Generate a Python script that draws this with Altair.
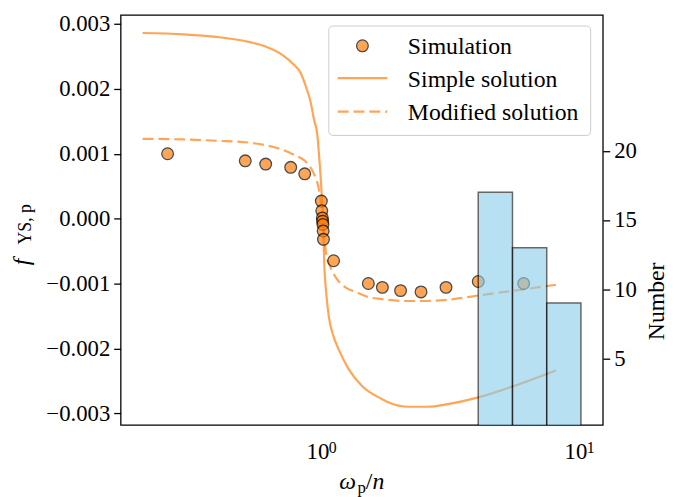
import altair as alt
import pandas as pd

# ---------------- data ----------------
sim_x = [0.25, 0.5, 0.6, 0.75, 0.85, 0.986, 0.99, 0.995, 0.997, 1.0, 1.002, 1.005,
         1.1, 1.5, 1.7, 2.0, 2.4, 3.0, 4.0, 6.0]
sim_y = [0.00100, 0.00089, 0.00084, 0.00079, 0.00069, 0.00027, 0.00012, 0.00001,
         -0.00004, -0.00009, -0.00019, -0.00032, -0.00065, -0.00100, -0.00106,
         -0.00111, -0.00113, -0.00106, -0.00097, -0.00100]

simple_x = [0.2, 0.288, 0.387, 0.52, 0.602, 0.698, 0.763, 0.821, 0.858, 0.897, 0.923,
            0.952, 0.965, 0.986, 1.0, 1.012, 1.03, 1.054, 1.1, 1.152, 1.258, 1.417,
            1.69, 1.79, 2.14, 2.55, 3.05, 3.97, 5.5, 8.0]
simple_y = [0.00286, 0.00284, 0.00280, 0.00272, 0.00265, 0.00252, 0.00239, 0.00224,
            0.00204, 0.00179, 0.00153, 0.00128, 0.00100, 0.00047, 0.0, -0.00070,
            -0.00115, -0.00151, -0.00182, -0.00202, -0.00232, -0.00258, -0.00278,
            -0.00283, -0.00290, -0.00290, -0.00286, -0.00276, -0.00258, -0.00234]

mod_x = [0.2, 0.288, 0.387, 0.52, 0.602, 0.698, 0.785, 0.845, 0.884, 0.915, 0.937,
         0.96, 0.98, 0.995, 1.009, 1.03, 1.07, 1.119, 1.222, 1.335, 1.5, 1.69, 2.08,
         2.48, 3.05, 4.09, 6.0, 8.0]
mod_y = [0.00123, 0.00122, 0.00120, 0.00117, 0.00113, 0.00106, 0.00097, 0.00090,
         0.00082, 0.00072, 0.00062, 0.00049, 0.00026, 0.00002, -0.00024, -0.00055,
         -0.00075, -0.00090, -0.00106, -0.00113, -0.00121, -0.00124, -0.00127,
         -0.00127, -0.00125, -0.00118, -0.00109, -0.00102]

bin_left = [4.0, 5.43, 7.37]
bin_right = [5.43, 7.37, 10.0]
bin_count = [17, 13, 9]

y_ticks = [-0.003, -0.002, -0.001, 0.0, 0.001, 0.002, 0.003]
right_ticks = [5, 10, 15, 20]
x_major = [1, 10]
x_minor = [0.2, 0.3, 0.4, 0.5, 0.6, 0.7, 0.8, 0.9, 2, 3, 4, 5, 6, 7, 8, 9]
xt_base = ["10", "10"]
xt_exp = ["0", "1"]

legend_labels = ["Simulation", "Simple solution", "Modified solution"]

# ---------------- styling ----------------
FONT = "Liberation Serif"
ORANGE = "#ff7f0e"
W, H = 488, 415

xscale = alt.Scale(type="log", domain=[0.1644, 12.16])
yscale = alt.Scale(domain=[-0.00318, 0.00314])
rscale = alt.Scale(domain=[0.19, 29.83])

df_sim = pd.DataFrame({"x": sim_x, "y": sim_y})
df_simple = pd.DataFrame({"x": simple_x, "y": simple_y})
df_mod = pd.DataFrame({"x": mod_x, "y": mod_y})
df_hist = pd.DataFrame({"left": bin_left, "right": bin_right, "count": bin_count})
df_xt = pd.DataFrame({"v": x_major, "base": xt_base, "exp": xt_exp})
one = pd.DataFrame({"a": [0]})

x_axis = alt.Axis(
    values=x_major + x_minor, labels=False, title=None, domain=False, grid=False,
    tickColor="black", tickWidth=1.3,
    tickSize={"condition": {"test": "datum.value == 1 || datum.value == 10", "value": 7},
              "value": 4},
)
y_axis = alt.Axis(
    orient="left", values=y_ticks, title=None, domain=False, grid=False,
    tickColor="black", tickWidth=1.3, tickSize=7, labelPadding=4,
    labelFont=FONT, labelFontSize=23, labelColor="black",
    labelExpr="replace(format(datum.value, '.3f'), '-', '\u2212')",
)
r_axis = alt.Axis(
    orient="right", values=right_ticks, title=None, domain=False, grid=False,
    tickColor="black", tickWidth=1.3, tickSize=7, labelPadding=4,
    labelFont=FONT, labelFontSize=23, labelColor="black",
)

simple = alt.Chart(df_simple).mark_line(
    color=ORANGE, opacity=0.7, strokeWidth=2.2, interpolate="monotone"
).encode(
    x=alt.X("x:Q", scale=xscale, axis=x_axis),
    y=alt.Y("y:Q", scale=yscale, axis=y_axis),
)
modified = alt.Chart(df_mod).mark_line(
    color=ORANGE, opacity=0.7, strokeWidth=2.2, strokeDash=[11, 5], interpolate="monotone"
).encode(
    x=alt.X("x:Q", scale=xscale, axis=None),
    y=alt.Y("y:Q", scale=yscale, axis=None),
)
points = alt.Chart(df_sim).mark_circle(
    color=ORANGE, stroke="black", strokeWidth=1.3, size=140, opacity=0.7
).encode(
    x=alt.X("x:Q", scale=xscale, axis=None),
    y=alt.Y("y:Q", scale=yscale, axis=None),
)

bars = alt.Chart(df_hist).mark_rect(
    fill="#87ceeb", stroke="black", strokeWidth=1.5, opacity=0.6, clip=True
).encode(
    x=alt.X("left:Q", scale=xscale, axis=None),
    x2="right:Q",
    y=alt.Y("count:Q", scale=rscale, axis=r_axis),
    y2=alt.datum(0),
)


def txt(text, x, y, size=24, style="normal", angle=0, align="left", baseline="alphabetic"):
    return alt.Chart(one).mark_text(
        text=text, font=FONT, fontSize=size, fontStyle=style, angle=angle,
        align=align, baseline=baseline, color="black",
    ).encode(x=alt.value(x), y=alt.value(y))


# x tick labels 10^0, 10^1
xt_base_layer = alt.Chart(df_xt).mark_text(
    font=FONT, fontSize=23, align="center", baseline="alphabetic", dx=-5, color="black"
).encode(x=alt.X("v:Q", scale=xscale, axis=None), y=alt.value(450), text="base:N")
xt_exp_layer = alt.Chart(df_xt).mark_text(
    font=FONT, fontSize=16, align="center", baseline="alphabetic", dx=10, color="black"
).encode(x=alt.X("v:Q", scale=xscale, axis=None), y=alt.value(443), text="exp:N")

# legend
legend_box = alt.Chart(one).mark_rect(
    fill="white", fillOpacity=0.8, stroke="#cccccc", strokeWidth=1, cornerRadius=4
).encode(x=alt.value(210.7), x2=alt.value(475.7), y=alt.value(11.3), y2=alt.value(122))
legend_circle = alt.Chart(one).mark_circle(
    color=ORANGE, stroke="black", strokeWidth=1.3, size=140, opacity=0.7
).encode(x=alt.value(244.7), y=alt.value(31.3))
legend_solid = alt.Chart(one).mark_rule(
    color=ORANGE, opacity=0.7, strokeWidth=2.2
).encode(x=alt.value(219.7), x2=alt.value(269.7), y=alt.value(64))
legend_dash = alt.Chart(one).mark_rule(
    color=ORANGE, opacity=0.7, strokeWidth=2.2, strokeDash=[11, 5]
).encode(x=alt.value(219.7), x2=alt.value(269.7), y=alt.value(98))
legend_t1 = txt(legend_labels[0], 290.7, 39.7)
legend_t2 = txt(legend_labels[1], 290.7, 73.2)
legend_t3 = txt(legend_labels[2], 290.7, 106.7)

# axis titles
xt_omega = txt("\u03c9", 221.3, 480, style="italic")
xt_p = txt("p", 239.7, 484, size=17)
xt_slash = txt("/", 248, 480)
xt_n = txt("n", 255, 480, style="italic")

# rotated y title: f with subscript YS, p (centered anchors, reading upward)
yt_f = txt("f", -100, 250, style="italic", angle=270, align="center", baseline="middle")
yt_sub = txt("YS, p", -96, 212, size=18, angle=270, align="center", baseline="middle")

rt_title = txt("Number", 543, 290, angle=270, align="center", baseline="middle")

chart = alt.layer(
    simple, modified, points, bars,
    xt_base_layer, xt_exp_layer,
    legend_box, legend_circle, legend_solid, legend_dash,
    legend_t1, legend_t2, legend_t3,
    xt_omega, xt_p, xt_slash, xt_n, yt_f, yt_sub, rt_title,
).resolve_scale(
    y="independent"
).properties(
    width=W, height=H,
    autosize=alt.AutoSizeParams(type="none"),
    padding={"left": 114, "top": 4, "right": 68, "bottom": 70},
).configure_view(
    stroke="black", strokeWidth=1.3
)

chart.save("out.html", embed_options={"renderer": "svg", "actions": False})
